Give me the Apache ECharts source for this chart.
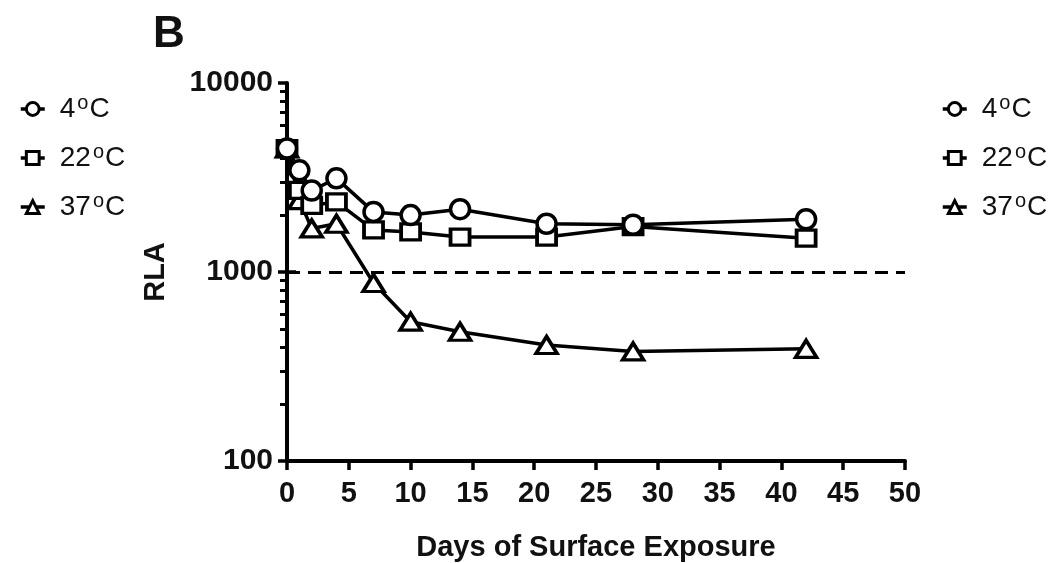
<!DOCTYPE html>
<html>
<head>
<meta charset="utf-8">
<script src="https://cdn.jsdelivr.net/npm/echarts@6/dist/echarts.min.js"></script>
<style>html,body{margin:0;padding:0;background:#fff;}#c{width:1061px;height:563px;}</style>
</head>
<body>
<div id="c"></div>
<script>
const days = [0, 1, 2, 4, 7, 10, 14, 21, 28, 42];
const rla4 = [4500, 3450, 2700, 3130, 2080, 2000, 2150, 1800, 1780, 1900];
const rla22 = [4500, 2700, 2250, 2350, 1670, 1630, 1530, 1530, 1740, 1510];
const rla37 = [4500, 2400, 1700, 1800, 875, 546, 483, 411, 380, 392];
const seriesNames = ['4°C', '22°C', '37°C'];
const xTicks = [0, 5, 10, 15, 20, 25, 30, 35, 40, 45, 50];
const yMajor = [100, 1000, 10000];
const yMinor = [200, 300, 400, 500, 600, 700, 800, 900, 2000, 3000, 4000, 5000, 6000, 7000, 8000, 9000];
const threshold = 1000;

const FONT = 'Liberation Sans, Arial, sans-serif';
const chart = echarts.init(document.getElementById('c'));
function pts(vals) { return days.map((d, i) => [d, vals[i]]); }
const symbols = ['circle', 'rect', 'triangle'];
const symSizes = [19, [19, 16], [21, 17]];
const allVals = [rla4, rla22, rla37];

const legendCommon = {
  orient: 'vertical',
  itemWidth: 24,
  itemHeight: 16,
  itemGap: 19,
  itemStyle: { color: '#fff', borderColor: '#000', borderWidth: 3 },
  lineStyle: { color: '#000', width: 3.5 },
  formatter: n => '{t|' + n.replace('°', '}{s|o}{t|') + '}',
  textStyle: {
    color: '#111',
    fontFamily: FONT,
    padding: [0, 0, 0, 10],
    rich: {
      t: { fontSize: 28, fontFamily: FONT, color: '#111' },
      s: { fontSize: 20, fontFamily: FONT, color: '#111', padding: [0, 1, 12, 2] }
    }
  },
  data: seriesNames
};

chart.setOption({
  backgroundColor: '#fff',
  animation: false,
  title: {
    text: 'B', left: 148, top: 8,
    textStyle: { fontSize: 44, fontWeight: 'bold', fontFamily: FONT, color: '#111' }
  },
  legend: [
    Object.assign({}, legendCommon, { left: 14, top: 88 }),
    Object.assign({}, legendCommon, { left: 936, top: 88 })
  ],
  grid: { left: 287, right: 156, top: 83, bottom: 102, outerBoundsMode: 'none', containLabel: false },
  xAxis: {
    type: 'value', min: 0, max: 50, interval: 5,
    name: 'Days of Surface Exposure', nameLocation: 'middle', nameGap: 72,
    nameTextStyle: { fontSize: 29, fontWeight: 'bold', fontFamily: FONT, color: '#111' },
    axisLine: { lineStyle: { color: '#000', width: 4 } },
    axisTick: { length: 9, lineStyle: { color: '#000', width: 3.5 } },
    axisLabel: { fontSize: 29, fontWeight: 'bold', fontFamily: FONT, color: '#111', margin: 18,
      customValues: xTicks },
    splitLine: { show: false }
  },
  yAxis: [
    {
      type: 'log', logBase: 10, min: 100, max: 10000,
      name: 'RLA', nameLocation: 'middle', nameGap: 117, nameRotate: 90,
      nameTextStyle: { fontSize: 29, fontWeight: 'bold', fontFamily: FONT, color: '#111' },
      axisLine: { show: true, lineStyle: { color: '#000', width: 4 } },
      axisTick: { show: true, length: 9, lineStyle: { color: '#000', width: 3.5 } },
      axisLabel: { fontSize: 30, fontWeight: 'bold', fontFamily: FONT, color: '#111', margin: 14,
        formatter: v => String(Math.round(v)) },
      splitLine: { show: false }
    },
    {
      type: 'log', logBase: 10, min: 100, max: 10000, position: 'left',
      axisLine: { show: false },
      axisTick: { show: true, length: 7, customValues: yMinor, lineStyle: { color: '#000', width: 3 } },
      axisLabel: { show: false },
      splitLine: { show: false }
    },
    {
      type: 'log', logBase: 10, min: 100, max: 10000, position: 'left',
      axisLine: { show: false },
      axisTick: { show: true, inside: true, length: 9, customValues: [threshold], lineStyle: { color: '#000', width: 3.5 } },
      axisLabel: { show: false },
      splitLine: { show: false }
    }
  ],
  series: seriesNames.map((n, k) => ({
    name: n,
    type: 'line',
    data: pts(allVals[k]),
    symbol: symbols[k],
    symbolSize: symSizes[k],
    showAllSymbol: true,
    lineStyle: { color: '#000', width: 3.5 },
    itemStyle: { color: '#fff', borderColor: '#000', borderWidth: 3.5 },
    z: 3 - k,
    markLine: k === 0 ? {
      silent: true, symbol: 'none', label: { show: false },
      lineStyle: { color: '#000', width: 3, type: [13, 8] },
      data: [{ yAxis: threshold }]
    } : undefined
  }))
});
</script>
</body>
</html>
